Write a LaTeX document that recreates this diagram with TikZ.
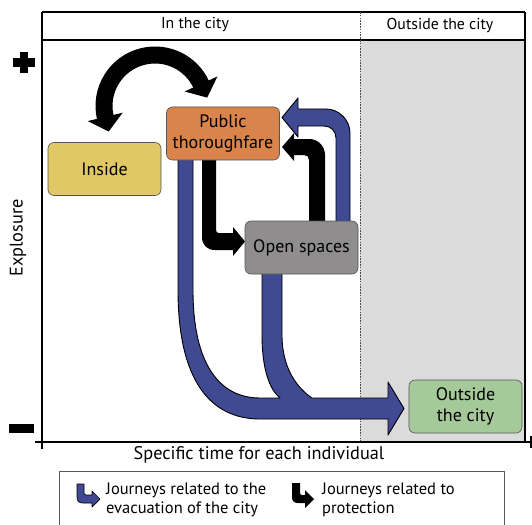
\documentclass[tikz,border=0pt]{standalone}
\usepackage{fontspec}
\setmainfont{PT Sans}
\usetikzlibrary{calc}
\definecolor{evac}{RGB}{63,74,146}
\definecolor{insideY}{RGB}{224,200,100}
\definecolor{ptOrange}{RGB}{217,132,74}
\definecolor{openG}{RGB}{143,141,141}
\definecolor{outG}{RGB}{166,201,154}
\definecolor{bgGray}{RGB}{219,219,219}
\definecolor{nodeborder}{RGB}{85,85,85}
\begin{document}
\begin{tikzpicture}[x=1pt,y=-1pt,
  box/.style={draw=nodeborder, line width=0.6pt, rounded corners=6pt,
    minimum width=113pt, minimum height=53pt, inner sep=0pt, align=center,
    font=\fontsize{18}{21.5}\selectfont},
  lbl/.style={inner sep=0pt, font=\fontsize{16}{20}\selectfont},
  headlbl/.style={lbl, font=\fontsize{15.8}{19}\selectfont},
  axlbl/.style={lbl, font=\fontsize{18.3}{21}\selectfont},
  leglbl/.style={lbl, font=\fontsize{16.5}{19.5}\selectfont},
  evacshape/.style={fill=evac, draw=black, line width=0.9pt, line join=round},
  protshape/.style={fill=black},
  axisline/.style={line width=1.6pt},
  frameline/.style={line width=1.2pt}]
\path[use as bounding box] (0,0) rectangle (532,524);
\clip (0,0) rectangle (532,524);

% background of the outside zone
\fill[bgGray] (360,40) rectangle (525,442);

% frame
\draw[frameline] (42,12) -- (525,12);
\draw[frameline] (42,40) -- (525,40);
\draw[frameline] (525,12) -- (525,442);
\draw[line width=0.6pt, dash pattern=on 1.6pt off 1.2pt, black!70] (360,12) -- (360,442);

% axes
\draw[axisline] (42,12) -- (42,449);
\draw[axisline] (35,442) -- (531,442);
\draw[line width=1.2pt] (531,436) -- (531,448);

% plus and minus
\fill (13,58) rectangle (35,67);
\fill (20,52) rectangle (28,73);
\fill (9,424) rectangle (34,433);

% header labels
\node[headlbl] (hin) at (195,25) {In the city};
\node[headlbl] (hout) at (440,25) {Outside the city};
\node[axlbl, rotate=90] (ylab) at (18,238) {Explosure};
\node[axlbl] (xlab) at (259,455) {Specific time for each individual};

% evacuation journeys (blue)
\path[evacshape] (178,158) -- (178,290)
  .. controls (178,380) and (210,419) .. (260,419)
  -- (388,419) -- (388,435) -- (404,408.5) -- (388,382) -- (388,398)
  -- (312,398) .. controls (297,388) and (282,368) .. (282,335)
  -- (282,272) -- (262,272) -- (262,335)
  .. controls (262,370) and (270,390) .. (280,398)
  -- (260,398) .. controls (220,398) and (193,365) .. (193,290)
  -- (193,158) -- cycle;
\path[evacshape] (336,223) -- (336,138) .. controls (336,131) and (331,126) .. (324,126)
  -- (298,126) -- (298,137) -- (282,117.5) -- (298,98) -- (298,109)
  -- (326,109) .. controls (339,109) and (350,120) .. (350,133)
  -- (350,223) -- cycle;

% protection journeys (black)
\path[protshape] (202,158) -- (202,237) .. controls (202,245) and (207,250) .. (215,250)
  -- (233,250) -- (233,256) -- (245,241.5) -- (233,227) -- (233,233)
  -- (219,233) .. controls (217,233) and (216,232) .. (216,230) -- (216,158) -- cycle;
\path[protshape] (309,223) -- (309,160) .. controls (309,157) and (307,155) .. (304,155)
  -- (294,155) -- (294,161) -- (282,147) -- (294,133) -- (294,139)
  -- (309,139) .. controls (318,139) and (325,146) .. (325,155)
  -- (325,223) -- cycle;
\draw[line width=17pt] (155,106) ++(-193.5:51) arc[start angle=-193.5, end angle=-24.5, radius=51];
\fill (217.4,76.5) -- (207.2,97.6) -- (184.6,91.5) -- cycle;
\fill (122.7,112.7) -- (108.7,131.5) -- (87.7,121.1) -- cycle;

% nodes
\node[box, fill=insideY] (inside) at (104.5,169) {Inside};
\node[box, fill=ptOrange] (pt) at (223,133.5) {Public\\thoroughfare};
\node[box, fill=openG] (open) at (301.5,247.5) {Open spaces};
\node[box, fill=outG] (outside) at (465.5,406.5) {Outside\\the city};

% legend
\draw[line width=0.8pt, black!65] (59,471) rectangle (504,540);
\path[evacshape, line width=0.7pt] (77,484) -- (77,497) .. controls (77,501) and (79,503) .. (83,503)
  -- (92,503) -- (92,507) -- (100,499) -- (92,491) -- (92,495)
  -- (86,495) .. controls (85,495) and (84,494) .. (84,493) -- (84,484) -- cycle;
\begin{scope}[xshift=215pt]
\path[protshape] (77,483) -- (77,497) .. controls (77,501) and (79,503) .. (83,503)
  -- (90,503) -- (90,508) -- (99,499) -- (90,490) -- (90,495)
  -- (87,495) .. controls (86,495) and (85,494) .. (85,493) -- (85,483) -- cycle;
\end{scope}
\node[leglbl, anchor=west, align=left] (leg1) at (106,500) {Journeys related to the\\evacuation of the city};
\node[leglbl, anchor=west, align=left] (leg2) at (322,500) {Journeys related to\\protection};
\end{tikzpicture}
\end{document}
